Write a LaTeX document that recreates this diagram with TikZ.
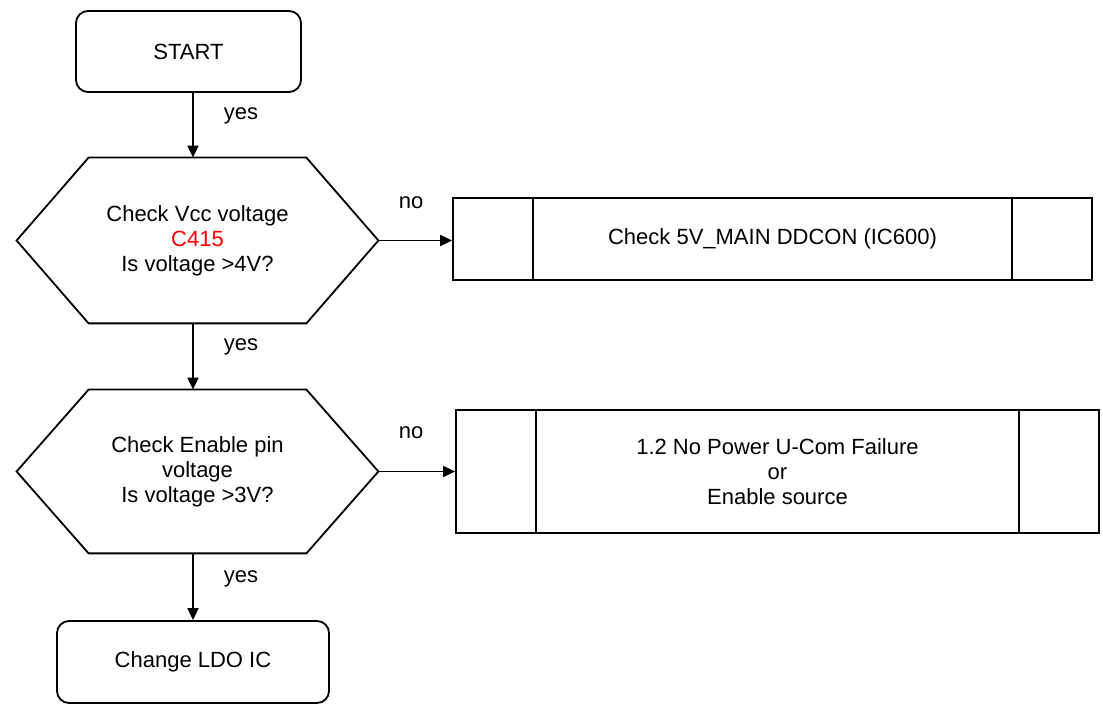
\documentclass[tikz,border=0pt]{standalone}
\usepackage{fontspec}
\setmainfont{Liberation Sans}
\usepackage{xcolor}
\usetikzlibrary{arrows.meta,calc}

% outline of a decision hexagon round a text node
\newcommand{\hexframe}[2]{%
  \draw[lw] (#1.west) -- ($(#1.north west)+(#2,0)$) -- ($(#1.north east)-(#2,0)$)
    -- (#1.east) -- ($(#1.south east)-(#2,0)$) -- ($(#1.south west)+(#2,0)$) -- cycle;}

\begin{document}
\begin{tikzpicture}[
  x=0.5pt,y=-0.5pt,
  lw/.style={line width=0.9pt},
  txt/.style={font=\fontsize{11}{12.5}\selectfont,align=center},
  term/.style={draw,lw,txt,rounded corners=6pt,inner sep=0pt},
  hexnode/.style={txt,inner sep=0pt,minimum width=180.5pt},
  subproc/.style={draw,lw,txt,inner sep=0pt,
    path picture={\draw[lw]
      ([xshift=40pt]path picture bounding box.north west) -- ([xshift=40pt]path picture bounding box.south west)
      ([xshift=-40pt]path picture bounding box.north east) -- ([xshift=-40pt]path picture bounding box.south east);}},
  arr/.style={lw,-{Triangle[length=6pt,width=5.5pt]}},
  lbl/.style={txt,inner sep=0pt}
]
\useasboundingbox (0,0) rectangle (1103,704);

\node[term,minimum width=112.5pt,minimum height=40.5pt] (start) at (188.5,51.5) {START};
\node[hexnode,minimum height=82.5pt] (vcc) at (197.5,240.5)
  {Check Vcc voltage\\\textcolor{red}{C415}\\Is voltage >4V?};
\node[hexnode,minimum height=81.5pt] (en) at (197.5,471.5)
  {Check Enable pin\\voltage\\Is voltage >3V?};
\node[term,minimum width=136pt,minimum height=41pt] (ldo) at (193,662) {Change LDO IC};
\node[subproc,minimum width=319.5pt,minimum height=41pt] (main) at (772.5,239)
  {Check 5V\_MAIN DDCON (IC600)};
\node[subproc,minimum width=321.5pt,minimum height=61.5pt] (ucom) at (777.5,471.5)
  {1.2 No Power U-Com Failure\\or\\Enable source};

\hexframe{vcc}{72}
\hexframe{en}{72}

\draw[arr] (start.south -| ldo.north) -- (vcc.north -| ldo.north);
\draw[arr] (vcc.south -| ldo.north) -- (en.north -| ldo.north);
\draw[arr] (en.south -| ldo.north) -- (ldo.north);
\draw[arr] (vcc.east) -- (vcc.east -| main.west);
\draw[arr] (en.east) -- (ucom.west);

\node[lbl] (yes1) at (241,116) {yes};
\node[lbl] (yes2) at (241,347) {yes};
\node[lbl] (yes3) at (241,579) {yes};
\node[lbl] (no1) at (411,203) {no};
\node[lbl] (no2) at (411,433) {no};
\end{tikzpicture}
\end{document}
